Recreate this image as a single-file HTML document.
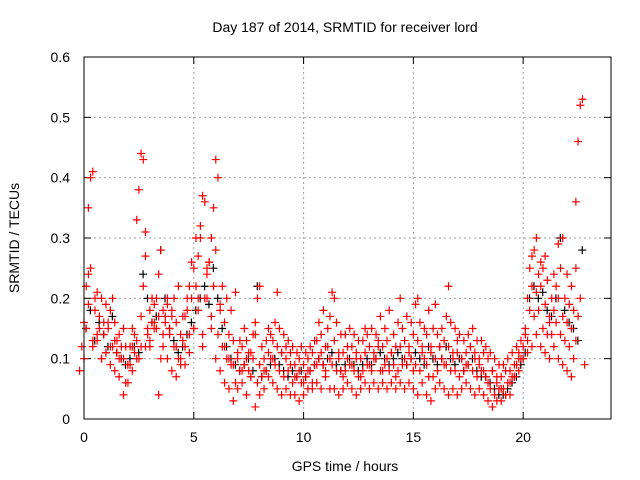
<!DOCTYPE html>
<html><head><meta charset="utf-8"><style>
body{margin:0;background:#fff;}
svg{display:block;font-family:"Liberation Sans",sans-serif;}
</style></head><body>
<svg id="chart" width="640" height="480" xmlns="http://www.w3.org/2000/svg">
<rect width="640" height="480" fill="#fff"/>
<text x="345" y="32" font-size="14" text-anchor="middle">Day 187 of 2014, SRMTID for receiver lord</text>
<text transform="translate(19,238) rotate(-90)" font-size="14" text-anchor="middle">SRMTID / TECUs</text>
<text x="345" y="471" font-size="14" text-anchor="middle">GPS time / hours</text>
<g id="grid"></g><g id="ticks"></g><g id="black"></g><g id="red"></g>
<rect x="84" y="57" width="527" height="362" fill="none" stroke="#000" stroke-width="1"/>
</svg>
<script>
const xTicks=[0,5,10,15,20];
const yTicks=[0,0.1,0.2,0.3,0.4,0.5,0.6];
const yTickLabels=["0","0.1","0.2","0.3","0.4","0.5","0.6"];
const hours=[0,0.2,0.4,0.6,0.8,1,1.2,1.4,1.6,1.8,2,2.2,2.4,2.6,2.8,3,3.2,3.4,3.6,3.8,4,4.2,4.4,4.6,4.8,5,5.2,5.4,5.6,5.8,6,6.2,6.4,6.6,6.8,7,7.2,7.4,7.6,7.8,8,8.2,8.4,8.6,8.8,9,9.2,9.4,9.6,9.8,10,10.2,10.4,10.6,10.8,11,11.2,11.4,11.6,11.8,12,12.2,12.4,12.6,12.8,13,13.2,13.4,13.6,13.8,14,14.2,14.4,14.6,14.8,15,15.2,15.4,15.6,15.8,16,16.2,16.4,16.6,16.8,17,17.2,17.4,17.6,17.8,18,18.2,18.4,18.6,18.8,19,19.2,19.4,19.6,19.8,20,20.2,20.4,20.6,20.8,21,21.2,21.4,21.6,21.8,22,22.2,22.4,22.6,22.8];
const redVals=[
[0.08,0.12,0.16,0.22,0.24],[0.1,0.15,0.19,0.25,0.13],[0.35,0.4,0.41,0.2,0.14],[0.12,0.18,0.21,0.15,0.1],[0.13,0.17,0.2,0.16,0.11],
[0.1,0.14,0.19,0.16,0.12],[0.11,0.15,0.18,0.2,0.13],[0.09,0.12,0.16,0.13,0.1],[0.08,0.11,0.14,0.12,0.1],[0.07,0.1,0.15,0.12,0.09],
[0.04,0.06,0.09,0.12,0.15],[0.06,0.09,0.12,0.14,0.1],[0.08,0.11,0.13,0.1,0.12],[0.33,0.38,0.44,0.43,0.31],[0.17,0.22,0.27,0.14,0.12],
[0.12,0.15,0.18,0.2,0.16],[0.13,0.16,0.19,0.15,0.17],[0.15,0.2,0.24,0.28,0.18],[0.04,0.1,0.14,0.17,0.19],[0.12,0.16,0.2,0.15,0.18],
[0.1,0.14,0.17,0.2,0.12],[0.08,0.12,0.16,0.22,0.1],[0.07,0.1,0.14,0.17,0.09],[0.09,0.13,0.17,0.2,0.11],[0.12,0.18,0.22,0.26,0.15],
[0.14,0.2,0.25,0.3,0.18],[0.15,0.22,0.27,0.32,0.12],[0.2,0.3,0.37,0.36,0.25],[0.14,0.2,0.24,0.26,0.17],[0.2,0.26,0.3,0.35,0.43],
[0.15,0.22,0.28,0.4,0.18],[0.1,0.14,0.19,0.22,0.12],[0.08,0.12,0.16,0.2,0.1],[0.06,0.1,0.14,0.18,0.09],[0.05,0.09,0.13,0.21,0.11],
[0.03,0.06,0.1,0.13,0.08],[0.05,0.08,0.12,0.15,0.1],[0.06,0.09,0.13,0.11,0.07],[0.04,0.08,0.11,0.14,0.16],[0.07,0.1,0.14,0.2,0.22],
[0.02,0.06,0.09,0.12,0.08],[0.04,0.07,0.1,0.13,0.15],[0.05,0.08,0.11,0.14,0.1],[0.07,0.1,0.13,0.16,0.21],[0.06,0.09,0.12,0.15,0.11],
[0.05,0.08,0.11,0.14,0.12],[0.04,0.07,0.1,0.13,0.09],[0.05,0.08,0.11,0.12,0.07],[0.04,0.06,0.09,0.11,0.08],[0.04,0.07,0.1,0.12,0.06],
[0.03,0.06,0.09,0.11,0.08],[0.04,0.07,0.1,0.12,0.06],[0.05,0.08,0.11,0.13,0.09],[0.05,0.09,0.13,0.16,0.11],[0.06,0.1,0.14,0.18,0.08],
[0.05,0.09,0.12,0.15,0.1],[0.07,0.12,0.17,0.21,0.2],[0.05,0.09,0.13,0.16,0.1],[0.05,0.08,0.11,0.14,0.07],[0.04,0.08,0.11,0.14,0.1],
[0.05,0.08,0.12,0.15,0.09],[0.06,0.09,0.12,0.14,0.1],[0.05,0.08,0.11,0.13,0.07],[0.04,0.07,0.1,0.13,0.15],[0.05,0.08,0.11,0.14,0.09],
[0.06,0.09,0.12,0.15,0.1],[0.05,0.08,0.11,0.14,0.12],[0.06,0.1,0.13,0.17,0.08],[0.05,0.08,0.12,0.15,0.1],[0.06,0.09,0.13,0.18,0.11],
[0.05,0.08,0.11,0.14,0.07],[0.06,0.09,0.12,0.16,0.2],[0.05,0.08,0.12,0.15,0.1],[0.06,0.09,0.13,0.17,0.11],[0.05,0.09,0.12,0.16,0.08],
[0.06,0.1,0.14,0.19,0.2],[0.05,0.09,0.13,0.16,0.11],[0.04,0.08,0.12,0.15,0.09],[0.06,0.1,0.14,0.18,0.12],[0.04,0.07,0.11,0.15,0.19],
[0.03,0.07,0.1,0.14,0.12],[0.05,0.08,0.12,0.15,0.09],[0.06,0.1,0.13,0.17,0.22],[0.05,0.09,0.12,0.16,0.1],[0.04,0.08,0.11,0.15,0.13],
[0.05,0.08,0.11,0.14,0.1],[0.04,0.07,0.1,0.13,0.09],[0.05,0.08,0.11,0.14,0.12],[0.06,0.09,0.12,0.15,0.1],[0.05,0.08,0.11,0.13,0.09],
[0.04,0.07,0.1,0.13,0.08],[0.05,0.08,0.11,0.12,0.06],[0.04,0.07,0.1,0.11,0.08],[0.03,0.05,0.08,0.1,0.06],[0.02,0.04,0.07,0.09,0.05],
[0.03,0.05,0.07,0.09,0.04],[0.03,0.05,0.08,0.1,0.06],[0.04,0.06,0.08,0.11,0.07],[0.04,0.07,0.09,0.12,0.1],[0.07,0.09,0.11,0.13,0.1],
[0.08,0.1,0.12,0.14,0.11],[0.1,0.15,0.2,0.25,0.27],[0.13,0.18,0.22,0.28,0.3],[0.12,0.17,0.21,0.24,0.26],[0.14,0.18,0.22,0.25,0.27],
[0.12,0.15,0.19,0.23,0.16],[0.11,0.14,0.17,0.2,0.24],[0.1,0.14,0.18,0.22,0.29],[0.12,0.16,0.2,0.25,0.3],[0.1,0.14,0.17,0.2,0.24],
[0.09,0.13,0.16,0.19,0.22],[0.08,0.12,0.15,0.18,0.25],[0.07,0.1,0.13,0.17,0.2],[0.36,0.46,0.52,0.53,0.09]];
const blackVals=[0.15,0.18,0.13,0.16,0.14,0.12,0.17,0.11,0.1,0.09,0.1,0.12,0.11,0.24,0.2,0.16,0.17,0.28,0.2,0.15,0.13,0.11,0.12,0.14,0.16,0.18,0.2,0.22,0.19,0.25,0.2,0.15,0.12,0.1,0.09,0.08,0.09,0.1,0.08,0.22,0.07,0.08,0.09,0.1,0.09,0.08,0.07,0.08,0.07,0.08,0.07,0.08,0.09,0.1,0.09,0.1,0.11,0.09,0.08,0.09,0.1,0.09,0.08,0.09,0.1,0.09,0.1,0.11,0.1,0.09,0.1,0.11,0.1,0.09,0.1,0.11,0.1,0.09,0.12,0.1,0.09,0.1,0.12,0.1,0.09,0.1,0.08,0.09,0.1,0.08,0.07,0.07,0.06,0.05,0.04,0.04,0.05,0.06,0.07,0.09,0.11,0.2,0.22,0.2,0.21,0.18,0.17,0.2,0.3,0.18,0.16,0.15,0.13,0.28];
const X=h=>84+h*(527/24);
const Y=v=>419-v*(362/0.6);
const NS="http://www.w3.org/2000/svg";
function mk(tag,attrs,parent){const e=document.createElementNS(NS,tag);for(const k in attrs)e.setAttribute(k,attrs[k]);parent.appendChild(e);return e;}
const grid=document.getElementById('grid'),ticks=document.getElementById('ticks');
xTicks.forEach(t=>{
  const g=mk('line',{x1:X(t),x2:X(t),y1:57,y2:419,stroke:'#a0a0a0','stroke-dasharray':'2,3'},grid);
  
  
  mk('line',{x1:X(t),x2:X(t),y1:419,y2:412,stroke:'#000'},ticks);
  mk('line',{x1:X(t),x2:X(t),y1:57,y2:64,stroke:'#000'},ticks);
  const l=mk('text',{x:X(t),y:442,'font-size':14,'text-anchor':'middle'},ticks);
  l.textContent=t;
  
  
});
yTicks.forEach((t,i)=>{
  const g=mk('line',{x1:84,x2:611,y1:Y(t),y2:Y(t),stroke:'#a0a0a0','stroke-dasharray':'2,3'},grid);
  
  
  mk('line',{x1:84,x2:91,y1:Y(t),y2:Y(t),stroke:'#000'},ticks);
  mk('line',{x1:611,x2:604,y1:Y(t),y2:Y(t),stroke:'#000'},ticks);
  const l=mk('text',{x:70,y:Y(t)+5,'font-size':14,'text-anchor':'end'},ticks);
  l.textContent=yTickLabels[i];
  
  
});
function plus(x,y,color,parent){
  return mk('path',{d:`M${x-4},${y}H${x+4}M${x},${y-4}V${y+4}`,stroke:color,'stroke-width':1.2,fill:'none'},parent);
}
const bg=document.getElementById('black'),rg=document.getElementById('red');
hours.forEach((h,i)=>{
  if(blackVals[i]!==undefined){
    const b=plus(X(h)+2,Y(blackVals[i]),'#000',bg);
    
    
  }
  const row=redVals[i]||[];
  row.forEach((v,j)=>{
    const p=plus(X(h)+(j-2)*2.2,Y(v),'#ff0000',rg);
    
    
  });
});
</script>
</body></html>
